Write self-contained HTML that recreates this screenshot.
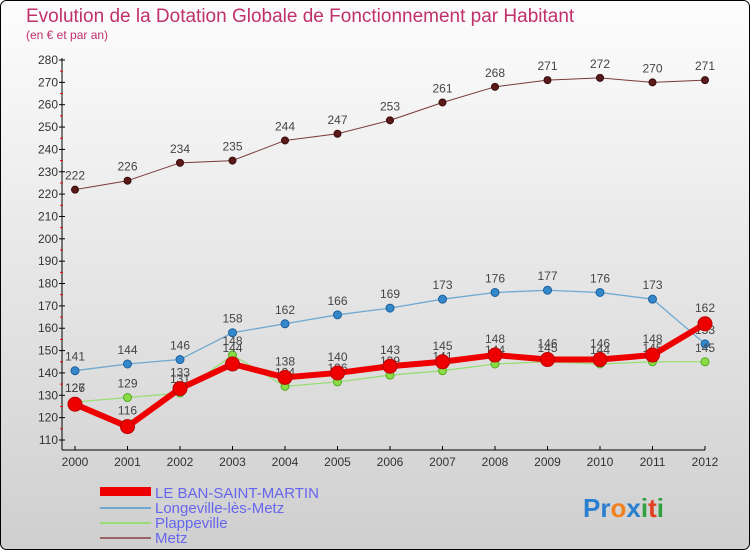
<!DOCTYPE html>
<html><head><meta charset="utf-8"><style>
body{margin:0;width:750px;height:550px;overflow:hidden;font-family:"Liberation Sans",sans-serif}
svg text{font-family:"Liberation Sans",sans-serif}
</style></head><body>
<svg id="c" width="750" height="550" xmlns="http://www.w3.org/2000/svg">
<defs><linearGradient id="bg" x1="0" y1="0" x2="0" y2="1"><stop offset="0" stop-color="#fdfdfd"/><stop offset="1" stop-color="#cfcfcf"/></linearGradient></defs>
<rect x="0.5" y="0.5" width="749" height="549" rx="6" fill="url(#bg)" stroke="#000"/>
<text x="26" y="22" font-size="19" fill="#c0306a">Evolution de la Dotation Globale de Fonctionnement par Habitant</text>
<text x="26" y="39" font-size="12" fill="#c0306a">(en € et par an)</text>
<g id="axes"></g><g id="series"></g>
<g>
<rect x="100" y="487" width="51" height="9" fill="#e00"/>
<text x="155" y="498" font-size="15" fill="#6666ee">LE BAN-SAINT-MARTIN</text>
<line x1="100" y1="508" x2="151" y2="508" stroke="#6fa8d0" stroke-width="2"/>
<text x="155" y="513" font-size="15" fill="#6666ee">Longeville-lès-Metz</text>
<line x1="100" y1="523" x2="151" y2="523" stroke="#99dd77" stroke-width="2"/>
<text x="155" y="528" font-size="15" fill="#6666ee">Plappeville</text>
<line x1="100" y1="538" x2="151" y2="538" stroke="#996666" stroke-width="2"/>
<text x="155" y="543" font-size="15" fill="#6666ee">Metz</text>
</g>
<text x="583" y="517" font-size="26" font-weight="bold"><tspan fill="#2a7fd0">Pr</tspan><tspan fill="#f08020">o</tspan><tspan fill="#2a7fd0">x</tspan><tspan fill="#30a040">i</tspan><tspan fill="#e04020">t</tspan><tspan fill="#30a040">i</tspan></text>
</svg>
<script>
const years=[2000,2001,2002,2003,2004,2005,2006,2007,2008,2009,2010,2011,2012];
const yTicks=[110,120,130,140,150,160,170,180,190,200,210,220,230,240,250,260,270,280];
const banValues=[126,116,133,144,138,140,143,145,148,146,146,148,162];
const longevilleValues=[141,144,146,158,162,166,169,173,176,177,176,173,153];
const plappevilleValues=[127,129,131,148,134,136,139,141,144,145,144,145,145];
const metzValues=[222,226,234,235,244,247,253,261,268,271,272,270,271];
const NS="http://www.w3.org/2000/svg";
function X(i){return 75+i*52.5;}
function Y(v){return 440-(v-110)*380/170;}
function mk(t,a,p){const e=document.createElementNS(NS,t);for(const k in a)e.setAttribute(k,a[k]);p.appendChild(e);return e;}
const ax=document.getElementById('axes');
let l=mk('line',{x1:62,y1:58,x2:62,y2:450,stroke:'#000'},ax);


l=mk('line',{x1:62,y1:450,x2:705,y2:450,stroke:'#000'},ax);


yTicks.forEach(v=>{
 mk('line',{x1:59,y1:Y(v),x2:65,y2:Y(v),stroke:'#000'},ax);
 if(v<280)mk('line',{x1:60,y1:Y(v+5),x2:63,y2:Y(v+5),stroke:'#e00'},ax);
 const t=mk('text',{x:58,y:Y(v)+4,'font-size':12,fill:'#333','text-anchor':'end'},ax);t.textContent=v;
 
 
});
years.forEach((y,i)=>{
 mk('line',{x1:X(i),y1:446,x2:X(i),y2:450,stroke:'#000'},ax);
 const t=mk('text',{x:X(i),y:466,'font-size':12,fill:'#333','text-anchor':'middle'},ax);t.textContent=y;
 
 
});
const sg=document.getElementById('series');
function draw(vals,name,color,w,r,dot,dotStroke,off){
 const g=mk('g',{},sg);
 
 
 const p=mk('polyline',{points:vals.map((v,i)=>X(i)+','+Y(v)).join(' '),fill:'none',stroke:color,'stroke-width':w,'stroke-linejoin':'round'},g);
 
 
 vals.forEach((v,i)=>{
  const c=mk('circle',{cx:X(i),cy:Y(v),r:r,fill:dot,stroke:dotStroke,'stroke-width':1},g);
  
  
  const t=mk('text',{x:X(i),y:Y(v)-off,'font-size':12,fill:'#444','text-anchor':'middle'},g);t.textContent=v;
  
  
 });
}
draw(metzValues,'metz','#7a3838',1,3.5,'#5a1a1a','#3a0a0a',10);
draw(longevilleValues,'longeville','#6fa8d0',1.3,4,'#3388cc','#1e5f99',10);
draw(plappevilleValues,'plappeville','#99dd77',1.3,4,'#88dd44','#55aa22',10);
draw(banValues,'ban-saint-martin','#ee0000',6,7,'#ee0000','#bb0000',12);
</script>
</body></html>
